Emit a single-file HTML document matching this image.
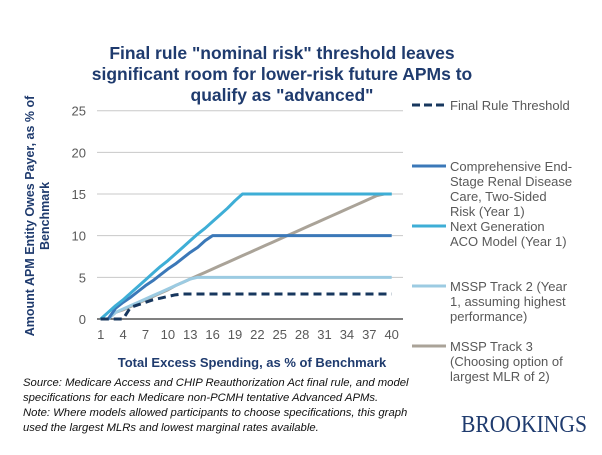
<!DOCTYPE html>
<html><head><meta charset="utf-8"><style>
body{margin:0;background:#fff;width:602px;height:450px;overflow:hidden;font-family:"Liberation Sans",Arial,sans-serif}
svg text{font-family:"Liberation Sans",Arial,sans-serif}
</style></head><body>
<svg id="c" width="602" height="450">
<g id="title" fill="#1f3b6e" font-weight="bold" font-size="17.5" text-anchor="middle">
<text x="282" y="59">Final rule "nominal risk" threshold leaves</text>
<text x="282" y="80">significant room for lower-risk future APMs to</text>
<text x="282" y="101">qualify as "advanced"</text>
</g>
<text transform="translate(34,216) rotate(-90)" text-anchor="middle" fill="#1f3b6e" font-weight="bold" font-size="12.5"><tspan x="0" y="0">Amount APM Entity Owes Payer, as % of</tspan><tspan x="0" y="15">Benchmark</tspan></text>
<text x="252" y="367" text-anchor="middle" fill="#1f3b6e" font-weight="bold" font-size="13">Total Excess Spending, as % of Benchmark</text>
<g font-style="italic" font-size="11.3" fill="#111">
<text x="23" y="386">Source: Medicare Access and CHIP Reauthorization Act final rule, and model</text>
<text x="23" y="401">specifications for each Medicare non-PCMH tentative Advanced APMs.</text>
<text x="23" y="416">Note: Where models allowed participants to choose specifications, this graph</text>
<text x="23" y="431">used the largest MLRs and lowest marginal rates available.</text>
</g>
<text x="587" y="432" text-anchor="end" font-size="24" fill="#1f3b6e" textLength="126" lengthAdjust="spacingAndGlyphs" style="font-family:'Liberation Serif',serif">BROOKINGS</text>
<g id="grid"></g><g id="axes"></g><g id="series"></g><g id="legend"></g>
</svg>
<script>
const categories=[];for(let i=1;i<=40;i++)categories.push(i);
const yTicks=[0,5,10,15,20,25];
const xTickLabels=[1,4,7,10,13,16,19,22,25,28,31,34,37,40];
const threshold=[0,0,0,0,1.4,1.7,2.0,2.3,2.5,2.7,2.9,3,3,3,3,3,3,3,3,3,3,3,3,3,3,3,3,3,3,3,3,3,3,3,3,3,3,3,3,3];
const esrd=[0,0,1.3,2.0,2.6,3.3,4.0,4.6,5.3,6.0,6.6,7.3,8.0,8.6,9.4,10,10,10,10,10,10,10,10,10,10,10,10,10,10,10,10,10,10,10,10,10,10,10,10,10];
const nextGen=[0,0.8,1.6,2.3,3.1,3.9,4.7,5.5,6.3,7.0,7.8,8.6,9.4,10.2,10.9,11.7,12.5,13.3,14.2,15,15,15,15,15,15,15,15,15,15,15,15,15,15,15,15,15,15,15,15,15];
const track2=[0,0,0.8,1.2,1.6,2.0,2.4,2.8,3.2,3.6,4.0,4.4,4.8,5,5,5,5,5,5,5,5,5,5,5,5,5,5,5,5,5,5,5,5,5,5,5,5,5,5,5];
const track3=[0,0,0.8,1.1,1.5,1.9,2.3,2.7,3.1,3.5,4.0,4.4,4.8,5.2,5.6,6.0,6.4,6.8,7.2,7.6,8.0,8.4,8.8,9.2,9.6,10.0,10.4,10.8,11.2,11.6,12.0,12.4,12.8,13.2,13.6,14.0,14.4,14.8,15,15];
const seriesNames=["Final Rule Threshold","Comprehensive End-|Stage Renal Disease|Care, Two-Sided|Risk (Year 1)","Next Generation|ACO Model (Year 1)","MSSP Track 2 (Year|1, assuming highest|performance)","MSSP Track 3|(Choosing option of|largest MLR of 2)"];
const NS="http://www.w3.org/2000/svg";
const x=v=>100.7+(v-1)*(291/39), y=v=>319-v*(208.3/25);
function mk(t,a,p){const e=document.createElementNS(NS,t);for(const k in a)e.setAttribute(k,a[k]);p.appendChild(e);return e;}
const grid=document.getElementById('grid'),axes=document.getElementById('axes'),ser=document.getElementById('series'),leg=document.getElementById('legend');
yTicks.forEach(t=>{
 if(t>0){const l=mk('line',{x1:97,x2:403,y1:y(t),y2:y(t),stroke:'#c8c8c8','stroke-width':1},grid);
 
 }
 const tx=mk('text',{x:86,y:y(t)+5,'text-anchor':'end','font-size':13,fill:'#595959'},axes);tx.textContent=t;
 
 
});
const ax=mk('line',{x1:97,x2:403,y1:y(0),y2:y(0),stroke:'#000','stroke-width':1},axes);


xTickLabels.forEach(t=>{const tx=mk('text',{x:x(t),y:339,'text-anchor':'middle','font-size':13,fill:'#595959'},axes);tx.textContent=t;
 
 });
const defs=[[track3,'#aaa398',false],[track2,'#9ccbe2',false],[esrd,'#3b78b8',false],[nextGen,'#3eaed6',false],[threshold,'#17375e',true]];
const ids=['mssp-track-3-line','mssp-track-2-line','esrd-line','next-gen-aco-line','threshold-line'];
defs.forEach((d,i)=>{const pts=d[0].map((v,j)=>x(categories[j])+','+y(v)).join(' ');
 const p=mk('polyline',{points:pts,fill:'none',stroke:d[1],'stroke-width':3,'stroke-linejoin':'round'},ser);
 if(d[2])p.setAttribute('stroke-dasharray','8,5');
 
 });
const legCol=['#17375e','#3b78b8','#3eaed6','#9ccbe2','#aaa398'];const legY=[105,166,226,286,346];
seriesNames.forEach((n,i)=>{const g=mk('g',{},leg);
 
 
 const l=mk('line',{x1:412,x2:446,y1:legY[i],y2:legY[i],stroke:legCol[i],'stroke-width':3},g);
 if(i==0)l.setAttribute('stroke-dasharray','8,4');
 n.split('|').forEach((s,k)=>{const t=mk('text',{x:450,y:legY[i]+5+k*15,'font-size':13,fill:'#595959'},g);t.textContent=s;});
});
</script>
</body></html>
